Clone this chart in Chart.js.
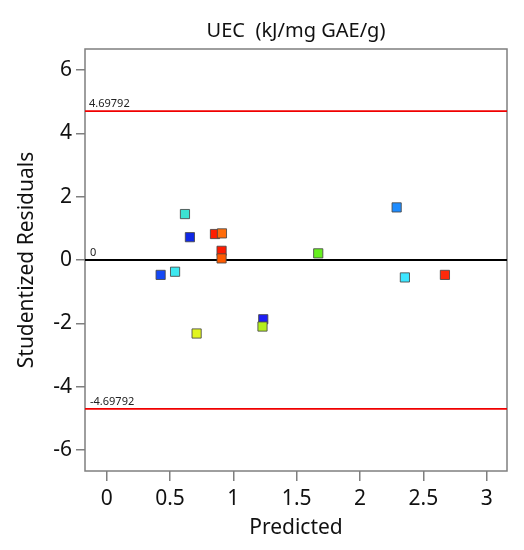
<!DOCTYPE html>
<html>
<head>
<meta charset="utf-8">
<script src="https://cdn.jsdelivr.net/npm/chart.js@4"></script>
<style>
  html, body { margin: 0; padding: 0; background: #fff; }
  #wrap { width: 524px; height: 550px; }
</style>
</head>
<body>
<div id="wrap"><canvas id="grafico" width="524" height="550"></canvas></div>
<script>
// dados
const predicted = [0.618, 0.657, 0.855, 0.91, 0.907, 0.907, 1.67, 0.426, 0.54, 1.236, 1.23, 0.71, 2.289, 2.354, 2.67];
const residuals = [1.45, 0.72, 0.82, 0.84, 0.29, 0.05, 0.21, -0.47, -0.37, -1.87, -2.1, -2.32, 1.66, -0.55, -0.47];
const limites = [4.69792, -4.69792];
const xTicks = [0, 0.5, 1, 1.5, 2, 2.5, 3];
const yTicks = [-6, -4, -2, 0, 2, 4, 6];

const cores = ['#3ce3d2', '#1028e6', '#ff1e00', '#ff6c0a', '#ff1a00', '#ff5a00', '#66f01e', '#1448f5',
  '#3ce8f0', '#1e1ef5', '#b4f01e', '#e1f51e', '#1e8cff', '#3ce6ff', '#ff2a0a'];

const xMin = -0.171, xMax = 3.16, yMin = -6.66, yMax = 6.66;
const fonte = "'Noto Sans', 'Open Sans', sans-serif";

const pontos = predicted.map((x, i) => ({ x: x, y: residuals[i] }));
const linha = v => [{ x: xMin, y: v }, { x: xMax, y: v }];

// caixa cinza e rotulos das linhas
const caixa = {
  id: 'caixa',
  beforeDatasetsDraw(chart) {
    const a = chart.chartArea;
    const c = chart.ctx;
    c.save();
    c.strokeStyle = '#7f7f7f';
    c.lineWidth = 1.5;
    c.strokeRect(a.left, a.top, a.right - a.left, a.bottom - a.top);
    c.restore();
  },
  afterDatasetsDraw(chart) {
    const c = chart.ctx;
    const y = chart.scales.y;
    const a = chart.chartArea;
    c.save();
    c.font = "11px " + fonte;
    c.fillStyle = '#222';
    c.textBaseline = 'alphabetic';
    c.fillText(String(limites[0]), a.left + 4, y.getPixelForValue(limites[0]) - 4);
    c.fillText('0', a.left + 5, y.getPixelForValue(0) - 4);
    c.fillText(String(limites[1]), a.left + 5, y.getPixelForValue(limites[1]) - 4);
    c.restore();
  }
};

const ctx = document.getElementById('grafico').getContext('2d');
let chart = new Chart(ctx, {
  type: 'scatter',
  data: {
    datasets: [
      {
        label: 'Residuals',
        data: pontos,
        pointStyle: 'rect',
        pointRadius: 6.5,
        pointHoverRadius: 6.5,
        backgroundColor: cores,
        borderColor: 'rgba(70,70,70,0.85)',
        borderWidth: 1
      },
      {
        type: 'line',
        data: linha(0),
        borderColor: '#000',
        borderWidth: 2,
        pointRadius: 0
      },
      {
        type: 'line',
        data: linha(limites[0]),
        borderColor: '#f00000',
        borderWidth: 1.8,
        pointRadius: 0
      },
      {
        type: 'line',
        data: linha(limites[1]),
        borderColor: '#f00000',
        borderWidth: 1.8,
        pointRadius: 0
      }
    ]
  },
  options: {
    responsive: false,
    animation: false,
    layout: { padding: { right: 17 } },
    plugins: {
      legend: { display: false },
      tooltip: { enabled: false }
    },
    scales: {
      x: {
        type: 'linear',
        min: xMin,
        max: xMax,
        afterBuildTicks: s => { s.ticks = xTicks.map(v => ({ value: v })); },
        afterFit: s => { s.height = 79; },
        ticks: {
          color: '#111',
          font: { size: 21, family: fonte },
          padding: 5,
          maxRotation: 0,
          callback: v => String(v)
        },
        grid: { drawOnChartArea: false, color: '#7f7f7f', lineWidth: 1.5, tickLength: 10 },
        border: { display: false },
        title: {
          display: true,
          text: 'Predicted',
          color: '#111',
          font: { size: 21, family: fonte },
          padding: { top: 0, bottom: 9 }
        }
      },
      x2: {
        type: 'linear',
        position: 'top',
        display: true,
        min: xMin,
        max: xMax,
        afterFit: s => { s.height = 49; },
        ticks: { display: false },
        grid: { display: false },
        border: { display: false },
        title: {
          display: true,
          text: 'UEC  (kJ/mg GAE/g)',
          color: '#111',
          font: { size: 20, family: fonte },
          padding: { top: 19, bottom: 0 }
        }
      },
      y: {
        min: yMin,
        max: yMax,
        afterBuildTicks: s => { s.ticks = yTicks.map(v => ({ value: v })); },
        afterFit: s => { s.width = 85; },
        ticks: {
          color: '#111',
          font: { size: 21, family: fonte },
          padding: 4,
          callback: v => String(v)
        },
        grid: { drawOnChartArea: false, color: '#7f7f7f', lineWidth: 1.5, tickLength: 9 },
        border: { display: false },
        title: {
          display: true,
          text: 'Studentized Residuals',
          color: '#111',
          font: { size: 21, family: fonte },
          padding: { top: 14, bottom: 0 }
        }
      }
    }
  },
  plugins: [caixa]
});
</script>
</body>
</html>
